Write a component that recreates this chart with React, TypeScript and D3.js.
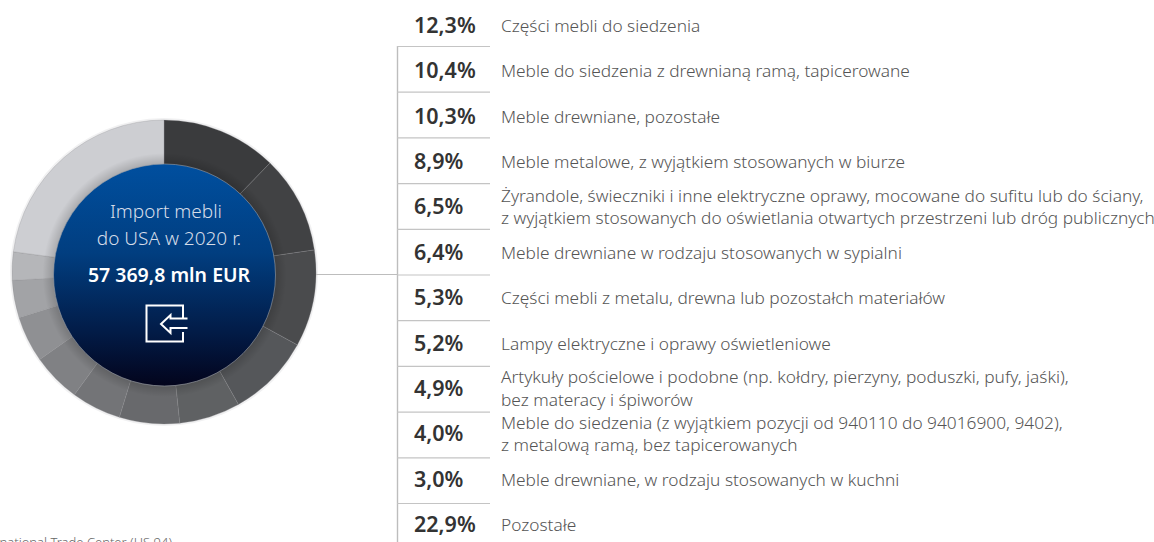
import React from "react";
import * as d3 from "d3";

const shares = [12.3, 10.4, 10.3, 8.9, 6.5, 6.4, 5.3, 5.2, 4.9, 4.0, 3.0, 22.9];
const shareLabels = ["12,3%", "10,4%", "10,3%", "8,9%", "6,5%", "6,4%", "5,3%", "5,2%", "4,9%", "4,0%", "3,0%", "22,9%"];
const ringColors = ["#3a3b3d", "#414244", "#4a4b4d", "#55575a", "#5f6163", "#68696c", "#737477", "#808184", "#8f9093", "#a2a3a6", "#b5b6b9", "#cdced2"];
const categories = [
  ["Części mebli do siedzenia"],
  ["Meble do siedzenia z drewnianą ramą, tapicerowane"],
  ["Meble drewniane, pozostałe"],
  ["Meble metalowe, z wyjątkiem stosowanych w biurze"],
  ["Żyrandole, świeczniki i inne elektryczne oprawy, mocowane do sufitu lub do ściany,", "z wyjątkiem stosowanych do oświetlania otwartych przestrzeni lub dróg publicznych"],
  ["Meble drewniane w rodzaju stosowanych w sypialni"],
  ["Części mebli z metalu, drewna lub pozostałch materiałów"],
  ["Lampy elektryczne i oprawy oświetleniowe"],
  ["Artykuły pościelowe i podobne (np. kołdry, pierzyny, poduszki, pufy, jaśki),", "bez materacy i śpiworów"],
  ["Meble do siedzenia (z wyjątkiem pozycji od 940110 do 94016900, 9402),", "z metalową ramą, bez tapicerowanych"],
  ["Meble drewniane, w rodzaju stosowanych w kuchni"],
  ["Pozostałe"],
];
const centerLines = ["Import mebli", "do USA w 2020 r."];
const centerValue = "57 369,8 mln EUR";
const sourceNote = "Źródło: International Trade Center (HS 94)";

const FONT = "'Noto Sans', 'Open Sans', sans-serif";

export default function App() {
  const pie = d3.pie<number>().sort(null).value((d) => d)(shares);
  const arc = d3.arc<d3.PieArcDatum<number>>().innerRadius(105).outerRadius(152);
  const rowY = d3.scaleLinear().domain([0, 11]).range([0.8, 503.5]);
  const valueY = d3.scaleLinear().domain([0, 11]).range([33, 532]);
  const textY = d3.scaleLinear().domain([0, 11]).range([32, 531]);
  const lineRows = d3.range(1, 12);
  return (
    <svg width={1154} height={542} style={{ position: "absolute", left: 0, top: 0, background: "#fff", fontFamily: FONT }}>
      <defs>
        <linearGradient id="blue" x1="0" y1="0" x2="0" y2="1">
          <stop offset="0" stopColor="#004f9f" />
          <stop offset="0.4" stopColor="#013e80" />
          <stop offset="0.75" stopColor="#021c48" />
          <stop offset="1" stopColor="#03041c" />
        </linearGradient>
        <radialGradient id="shadow" cx="0.5" cy="0.5" r="0.5">
          <stop offset="0.9" stopColor="#000" stopOpacity="0.18" />
          <stop offset="1" stopColor="#000" stopOpacity="0" />
        </radialGradient>
      </defs>
      <circle cx={164} cy={272} r={154} fill="#f1f1f2" />
      <g transform="translate(164,272)">
        {pie.map((s, i) => (
          <path key={i} d={arc(s) || ""} fill={ringColors[i]} stroke="#8a8b8e" strokeWidth={0.3} />
        ))}
      </g>
      <circle cx={164.5} cy={275} r={122} fill="url(#shadow)" />
      <circle cx={164.5} cy={275} r={111} fill="url(#blue)" stroke="#9aa0a8" strokeWidth={0.6} />
      <text x={166} y={218} textAnchor="middle" fontSize={19} fontWeight={300} fill="#d5dce8">{centerLines[0]}</text>
      <text x={169} y={245} textAnchor="middle" fontSize={19} fontWeight={300} fill="#d5dce8">{centerLines[1]}</text>
      <text x={169} y={282} textAnchor="middle" fontSize={19.5} fontWeight={600} fill="#fff">{centerValue}</text>
      <g fill="none" stroke="#fff" strokeWidth={2}>
        <path d="M183,318 V305.5 H146.5 V341.5 H183 V332" />
        <path d="M187.5,318.5 H170.5 V315 L161,324 L170.5,333 V328 H187.5" />
      </g>
      <line x1={316} x2={397} y1={274.5} y2={274.5} stroke="#bdbdbd" />
      <line x1={397.5} x2={397.5} y1={46} y2={542} stroke="#bdbdbd" strokeWidth={1.4} />
      {lineRows.map((i) => (
        <line key={i} x1={397} x2={490} y1={rowY(i)} y2={rowY(i)} stroke="#c4c4c4" strokeWidth={1.2} />
      ))}
      {shareLabels.map((l, i) => (
        <text key={i} x={414} y={valueY(i)} fontSize={21.5} fontWeight={600} fill="#333">{l}</text>
      ))}
      {categories.map((lines, i) =>
        lines.map((t, j) => (
          <text key={j + "-" + i} x={501} fontSize={17.3} fontWeight={300} fill="#555"
            y={textY(i) + (lines.length === 2 ? (j === 0 ? -11.5 : 11) : 0)}>{t}</text>
        ))
      )}
      <text x={172} y={546.5} textAnchor="end" fontSize={13} fontWeight={300} fill="#666">{sourceNote}</text>
    </svg>
  );
}
